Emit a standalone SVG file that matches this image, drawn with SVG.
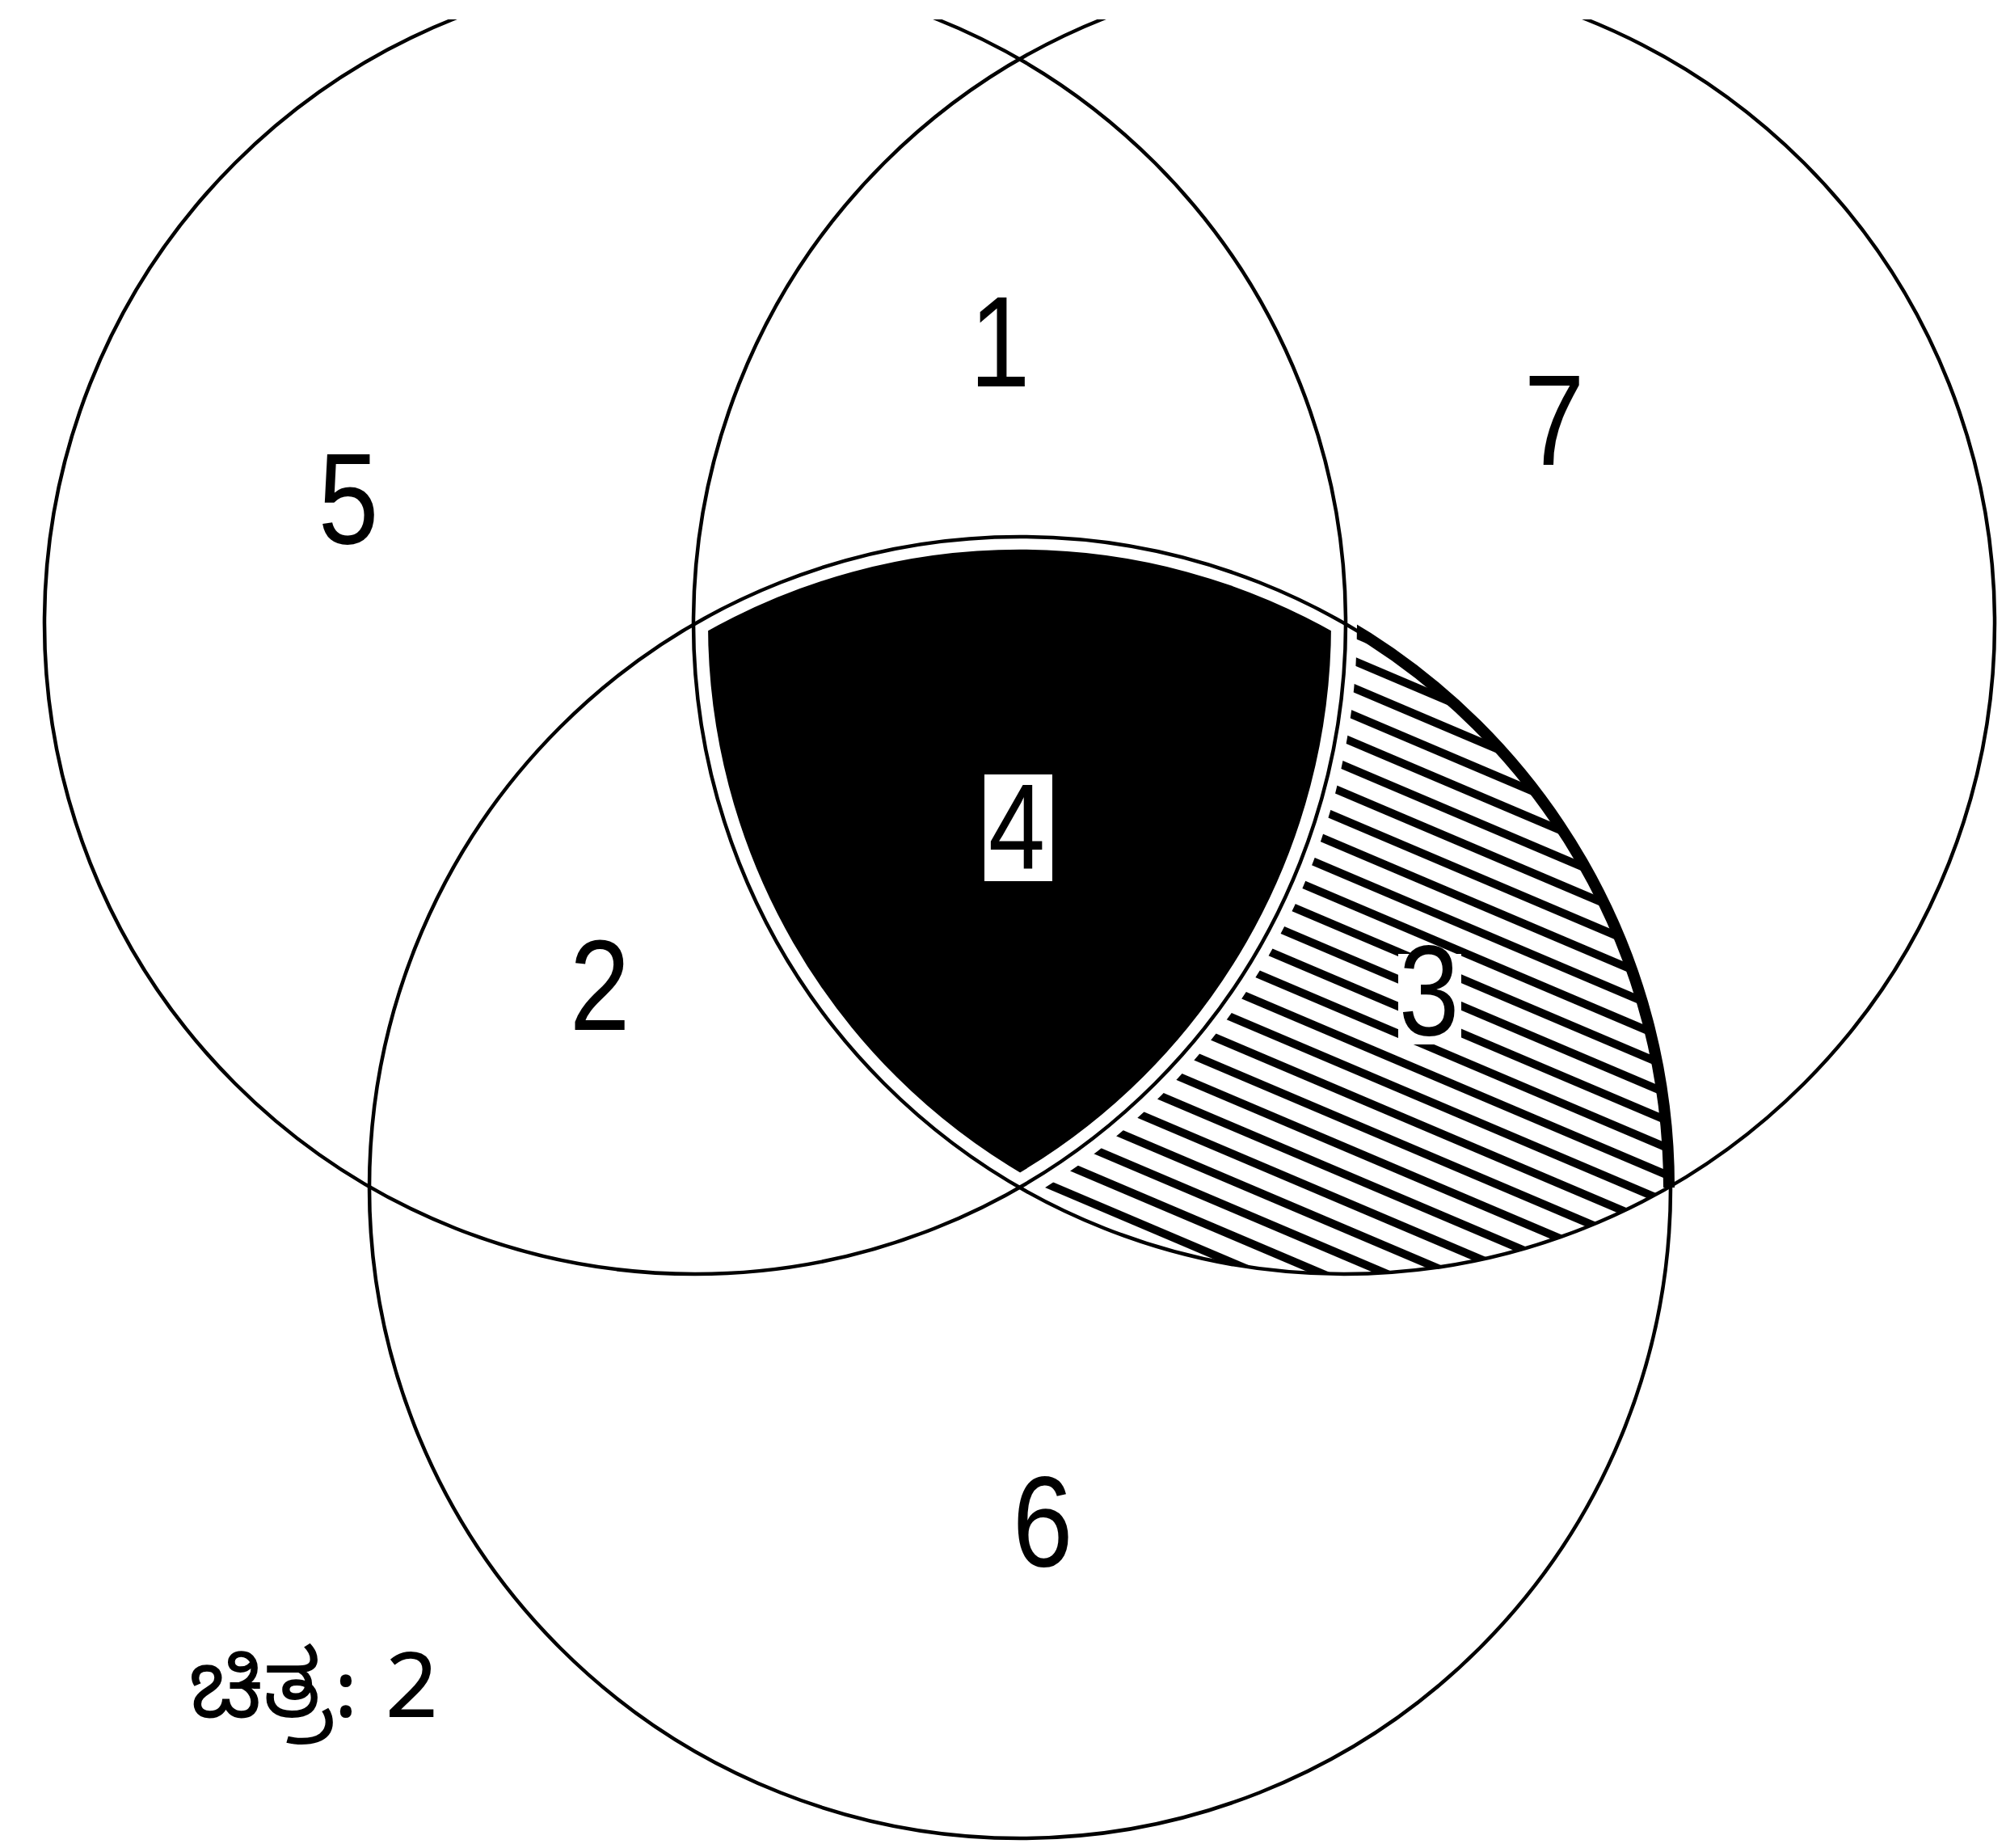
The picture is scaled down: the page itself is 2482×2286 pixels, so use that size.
<svg xmlns="http://www.w3.org/2000/svg" width="2482" height="2286" viewBox="0 0 2482 2286">
<defs>
<style>
.c{fill:none;stroke:#000;stroke-width:4.5}
.lbl{font-family:"Liberation Sans",Arial,sans-serif;font-size:160px;fill:#000;text-anchor:middle}
.cap{font-family:"Noto Sans Kannada","Noto Sans","Liberation Sans",sans-serif;font-size:115px;fill:#000}
</style>
<pattern id="hatch" patternUnits="userSpaceOnUse" width="40" height="31" patternTransform="rotate(23)">
<rect x="0" y="0" width="40" height="10" fill="#000"/>
</pattern>
</defs>
<rect width="2482" height="2286" fill="#fff"/>
<g id="region3">
<path d="M1663,771 A805,805 0 0 1 2065,1469 A805,805 0 0 1 1262,1469 A805,805 0 0 0 1663,771 Z" fill="url(#hatch)"/>
<path d="M1663,771 A805,805 0 0 1 2065,1469" fill="none" stroke="#000" stroke-width="14"/>
<rect id="box3" x="1730" y="1180" width="78" height="112" fill="#fff"/>
</g>
<g id="region4">
<path d="M860,771 A805,805 0 0 1 1663,771 A805,805 0 0 1 1262,1469 A805,805 0 0 1 860,771 Z" fill="#000" stroke="#fff" stroke-width="32" stroke-linejoin="round"/>
</g>
<g id="circles">
<circle id="circle-left" class="c" cx="860" cy="771" r="805"/>
<circle id="circle-right" class="c" cx="1663" cy="771" r="805"/>
<circle id="circle-bottom" class="c" cx="1262" cy="1469" r="805"/>
</g>
<rect id="top-edge" x="0" y="0" width="2482" height="24" fill="#fff"/>
<g id="labels">
<text id="t5" class="lbl" transform="translate(431,672) scale(0.84,1)">5</text>
<text id="t1" class="lbl" transform="translate(1237,478) scale(0.84,1)">1</text>
<text id="t7" class="lbl" transform="translate(1923,575) scale(0.84,1)">7</text>
<rect id="box4" x="1218" y="958" width="84" height="132" fill="#fff"/>
<text id="t4" class="lbl" transform="translate(1258,1074) scale(0.84,1)" style="font-size:150px">4</text>
<text id="t2" class="lbl" transform="translate(742,1274) scale(0.84,1)">2</text>
<text id="t3" class="lbl" transform="translate(1768,1280) scale(0.84,1)">3</text>
<text id="t6" class="lbl" transform="translate(1290,1937) scale(0.84,1)">6</text>
<text id="caption" class="cap" x="234" y="2124">ಚಿತ್ರ:  2</text>
</g>
</svg>
